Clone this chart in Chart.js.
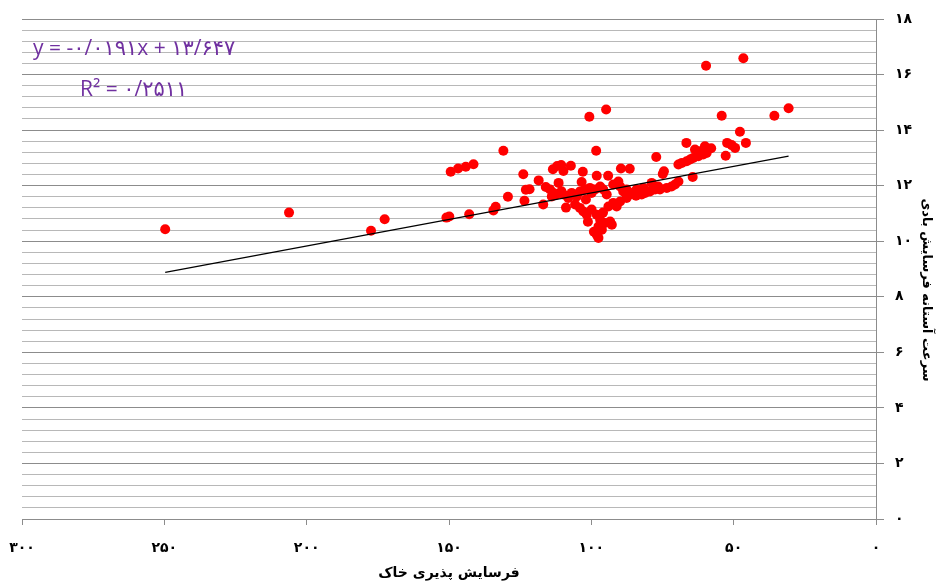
<!DOCTYPE html>
<html>
<head>
<meta charset="utf-8">
<script src="https://cdn.jsdelivr.net/npm/chart.js@4/dist/chart.umd.min.js"></script>
<style>
  html, body { margin: 0; padding: 0; background: #ffffff; }
  #wrap { width: 939px; height: 583px; position: relative; }
</style>
</head>
<body>
<div id="wrap"><canvas id="chart" width="939" height="583"></canvas></div>
<script>
// Soil erodibility (x) and wind-erosion threshold velocity (y) for each sample
const erodibility = [
  249.7, 206.2, 177.4, 172.6, 150.9, 149.9, 149.4, 146.8, 144.1, 141.4,
  142.9, 130.9, 134.4, 133.6, 129.3, 123.9, 123.5, 123.0, 121.7, 118.5,
  116.9, 113.5, 112.0, 110.6, 109.8, 111.5, 107.2, 103.0, 103.4, 100.7,
  94.8, 98.3, 98.1, 94.1, 89.6, 86.5, 77.2, 59.7, 46.6, 54.2,
  35.7, 30.7, 47.8, 66.6, 45.7, 52.3, 50.7, 49.5, 52.8, 64.4,
  74.5, 74.9, 63.6, 60.1, 59.5, 60.7, 62.4, 64.2, 65.3, 66.5,
  68.2, 69.4, 69.4, 70.6, 71.8, 73.5, 75.9, 77.6, 79.4, 81.1,
  82.3, 78.8, 76.5, 81.7, 84.1, 85.8, 87.6, 88.8, 89.9, 90.5,
  92.3, 94.6, 95.8, 96.9, 98.7, 99.9, 100.5, 102.2, 104.0, 105.1,
  106.9, 108.1, 109.8, 112.2, 113.9, 113.3, 114.5, 104.0, 102.8, 101.6,
  99.9, 98.1, 96.9, 97.5, 98.1, 97.5, 96.3, 95.2, 93.4, 92.8,
  94.0, 92.3, 91.1, 89.9, 87.6, 95.9, 99.1, 86.4, 84.3, 101.9,
  105.7, 108.9, 101.2, 110.5, 116.0, 61.8, 57.9
];
const thresholdVelocity = [
  10.43, 11.03, 10.38, 10.79, 10.85, 10.89, 12.50, 12.62, 12.68, 12.77,
  10.97, 13.26, 11.11, 11.24, 11.60, 12.41, 11.46, 11.85, 11.87, 12.19,
  11.32, 12.59, 12.71, 12.74, 12.53, 12.10, 12.72, 12.50, 12.13, 14.48,
  14.74, 13.26, 12.36, 12.36, 12.62, 12.61, 13.03, 16.32, 16.59, 14.52,
  14.52, 14.79, 13.94, 13.54, 13.54, 13.54, 13.46, 13.36, 13.08, 12.31,
  12.52, 12.42, 13.30, 13.42, 13.18, 13.12, 13.06, 13.00, 12.94, 12.88,
  12.82, 12.76, 12.15, 12.04, 11.97, 11.92, 11.86, 11.86, 11.79, 11.74,
  11.68, 12.10, 11.97, 11.92, 11.86, 11.74, 11.86, 11.79, 11.97, 12.15,
  12.04, 11.68, 11.86, 11.97, 11.86, 11.74, 11.92, 11.86, 11.79, 11.61,
  11.74, 11.56, 11.68, 11.68, 11.61, 11.74, 11.86, 11.20, 11.07, 10.95,
  11.14, 10.95, 10.77, 10.53, 10.23, 10.12, 10.41, 10.66, 10.71, 10.59,
  11.25, 11.38, 11.25, 11.43, 11.56, 11.03, 10.34, 11.68, 11.64, 11.50,
  11.32, 11.21, 10.70, 11.80, 11.95, 13.24, 13.35
];

// Linear trend fitted to the samples
const trendSlope = -0.0191;
const trendIntercept = 13.647;
const rSquared = 0.2511;

// Axis ranges and tick steps
const xRange = [0, 300];
const xTickStep = 50;
const yRange = [0, 18];
const yGridStep = 0.4;
const yLabelStep = 2;

const xTitle = 'فرسایش پذیری خاک';
const yTitle = 'سرعت آستانه فرسایش بادی';

const faDigits = '۰۱۲۳۴۵۶۷۸۹';
const fa = s => String(s).replace(/\d/g, d => faDigits[+d]);
const faDec = (v, places) => fa(v.toFixed(places).replace('.', '/'));

const points = erodibility.map((x, i) => ({ x, y: thresholdVelocity[i] }));
const xMin = Math.min(...erodibility), xMax = Math.max(...erodibility);
const trendPoints = [xMax, xMin].map(x => ({ x, y: trendSlope * x + trendIntercept }));

const equationText = 'y = ' + (trendSlope < 0 ? '-' : '') + faDec(Math.abs(trendSlope), 4) +
  'x + ' + faDec(trendIntercept, 3);
const r2Text = 'R² = ' + faDec(rSquared, 4);

const isLabelled = v => Math.abs(v / yLabelStep - Math.round(v / yLabelStep)) < 1e-6;

const annotations = {
  id: 'annotations',
  afterDraw(chart) {
    const ctx = chart.ctx;
    ctx.save();
    ctx.direction = 'ltr';
    ctx.fillStyle = '#7030A0';
    ctx.font = '21px "Open Sans", "DejaVu Sans", sans-serif';
    ctx.textAlign = 'left';
    ctx.textBaseline = 'alphabetic';
    ctx.fillText(equationText, 33, 55);
    ctx.fillText(r2Text, 80, 96);
    ctx.restore();

    ctx.save();
    ctx.translate(926, 290);
    ctx.rotate(Math.PI / 2);
    ctx.direction = 'rtl';
    ctx.fillStyle = '#000000';
    ctx.font = 'bold 13px "DejaVu Sans", sans-serif';
    ctx.textAlign = 'center';
    ctx.textBaseline = 'middle';
    ctx.fillText(yTitle, 0, 0);
    ctx.restore();
  }
};

new Chart(document.getElementById('chart'), {
  type: 'scatter',
  data: {
    datasets: [
      {
        type: 'line',
        data: trendPoints,
        borderColor: '#000000',
        borderWidth: 1.2,
        pointRadius: 0,
        fill: false,
        order: 0
      },
      {
        data: points,
        backgroundColor: '#FF0000',
        borderColor: '#FF0000',
        borderWidth: 0,
        pointRadius: 5,
        order: 1
      }
    ]
  },
  options: {
    responsive: false,
    animation: false,
    events: [],
    layout: { padding: { left: 22, top: 19, right: 0, bottom: 0 } },
    plugins: { legend: { display: false }, tooltip: { enabled: false } },
    scales: {
      x: {
        type: 'linear',
        position: 'bottom',
        reverse: true,
        min: xRange[0],
        max: xRange[1],
        afterFit: s => { s.height = 64; s.paddingLeft = 0; s.paddingRight = 0; },
        ticks: {
          stepSize: xTickStep,
          padding: 15,
          color: '#000000',
          font: { family: '"DejaVu Sans", sans-serif', size: 14, weight: 'bold' },
          callback: v => fa(v)
        },
        grid: { drawOnChartArea: false, drawTicks: true, tickLength: 6, color: '#8c8c8c' },
        border: { display: true, color: '#8c8c8c', width: 1 },
        title: {
          display: true,
          text: xTitle,
          color: '#000000',
          font: { family: '"DejaVu Sans", sans-serif', size: 14, weight: 'bold' },
          padding: { top: 0, bottom: 1 }
        }
      },
      y: {
        type: 'linear',
        position: 'right',
        min: yRange[0],
        max: yRange[1],
        afterFit: s => { s.width = 63; s.paddingTop = 0; s.paddingBottom = 0; },
        afterBuildTicks: s => { s.ticks.forEach(t => { t.value = Math.round(t.value * 10) / 10; }); },
        ticks: {
          stepSize: yGridStep,
          autoSkip: false,
          padding: 11,
          color: '#000000',
          font: { family: '"DejaVu Sans", sans-serif', size: 14, weight: 'bold' },
          callback: v => isLabelled(v) ? fa(Math.round(v)) : ''
        },
        grid: {
          drawTicks: true,
          tickLength: 8,
          color: c => (c.tick && isLabelled(c.tick.value)) ? '#8c8c8c' : '#b8b8b8',
          tickColor: c => (c.tick && isLabelled(c.tick.value)) ? '#8c8c8c' : 'rgba(0,0,0,0)',
          lineWidth: 1
        },
        border: { display: true, color: '#8c8c8c', width: 1 }
      }
    }
  },
  plugins: [annotations]
});
</script>
</body>
</html>
